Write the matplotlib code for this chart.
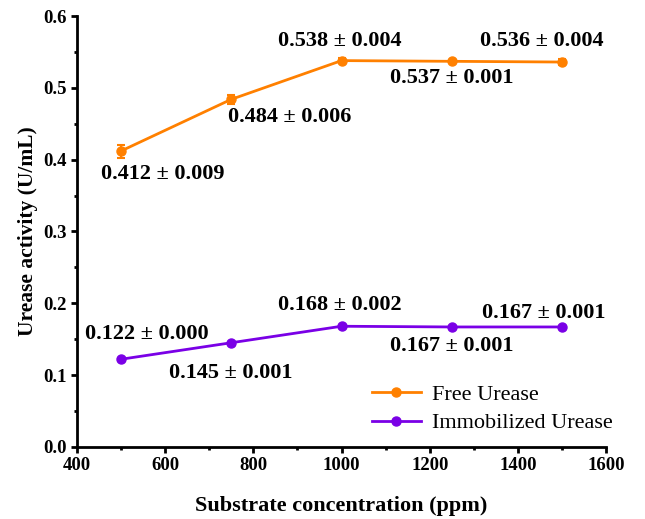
import matplotlib
matplotlib.use("Agg")
import matplotlib.pyplot as plt
from matplotlib.ticker import MultipleLocator
from matplotlib.lines import Line2D

# substrate concentration (ppm)
conc = [500, 750, 1000, 1250, 1500]

free_mean = [0.412, 0.484, 0.538, 0.537, 0.536]
free_err = [0.009, 0.006, 0.004, 0.001, 0.004]

imm_mean = [0.122, 0.145, 0.168, 0.167, 0.167]
imm_err = [0.000, 0.001, 0.002, 0.001, 0.001]

# label offsets in pixels from each point
free_offsets = [(42, -23), (58, -18), (-2, 20), (0, -17), (-20, 21)]
imm_offsets = [(26, 25), (0, -30), (-2, 21), (0, -19), (-18, 14)]

plt.rcParams["font.family"] = ["Liberation Serif", "DejaVu Serif"]

orange = "#FF8000"
purple = "#7A00E6"

fig = plt.figure(figsize=(6.45, 5.19), dpi=100)
ax = fig.add_axes([0.119, 0.139, 0.821, 0.830])

ax.errorbar(conc, free_mean, yerr=free_err, color=orange, marker="o", ms=6.5,
            lw=2, capsize=3, elinewidth=1.5, capthick=1.5)
ax.errorbar(conc, imm_mean, yerr=imm_err, color=purple, marker="o", ms=6.5,
            lw=2, capsize=3, elinewidth=1.5, capthick=1.5)

for x, m, e, off in zip(conc, free_mean, free_err, free_offsets):
    ax.annotate(f"{m:.3f} ± {e:.3f}", (x, m), xytext=off, textcoords="offset pixels",
                ha="center", va="center", fontsize=16, fontweight="bold")
for x, m, e, off in zip(conc, imm_mean, imm_err, imm_offsets):
    ax.annotate(f"{m:.3f} ± {e:.3f}", (x, m), xytext=off, textcoords="offset pixels",
                ha="center", va="center", fontsize=16, fontweight="bold")

ax.set_xlim(400, 1600)
ax.set_ylim(0, 0.6)
ax.xaxis.set_major_locator(MultipleLocator(200))
ax.xaxis.set_minor_locator(MultipleLocator(100))
ax.yaxis.set_major_locator(MultipleLocator(0.1))
ax.yaxis.set_minor_locator(MultipleLocator(0.05))
ax.yaxis.set_major_formatter(plt.FuncFormatter(lambda v, p: f"{v:.1f}"))

for s in ["top", "right"]:
    ax.spines[s].set_visible(False)
for s in ["left", "bottom"]:
    ax.spines[s].set_linewidth(2)
ax.tick_params(which="major", direction="out", length=4, width=2, labelsize=13.5, pad=3)
ax.tick_params(which="minor", direction="out", length=2.5, width=2)
for lab in ax.get_xticklabels() + ax.get_yticklabels():
    lab.set_fontweight("bold")

ax.set_xlabel("Substrate concentration (ppm)", fontsize=16, fontweight="bold", labelpad=16)
ax.set_ylabel("Urease activity (U/mL)", fontsize=15.5, fontweight="bold", labelpad=4)

handles = [Line2D([], [], color=orange, marker="o", ms=6.5, lw=2),
           Line2D([], [], color=purple, marker="o", ms=6.5, lw=2)]
ax.legend(handles, ["Free Urease", "Immobilized Urease"], loc="lower right",
          bbox_to_anchor=(1.05, -0.015), frameon=False, fontsize=16,
          handlelength=2.2, handletextpad=0.5, labelspacing=0.35)

fig.savefig("out.png", dpi=100)
